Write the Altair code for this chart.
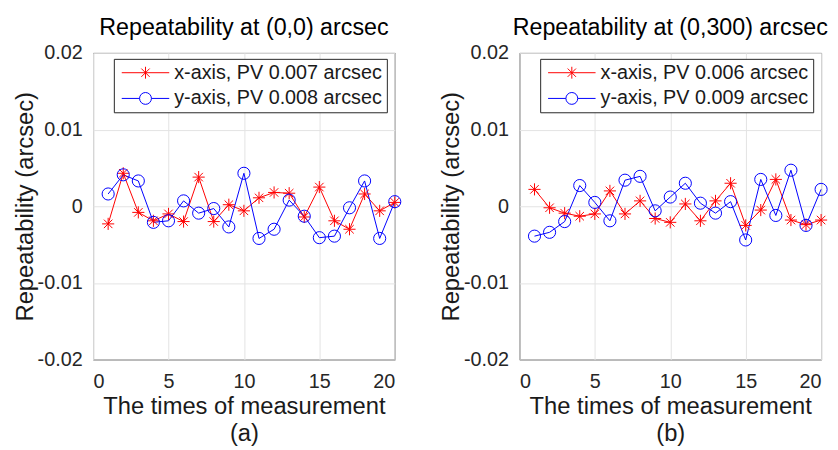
import altair as alt
import pandas as pd

times = list(range(1, 21))

# Panel (a): repeatability at (0,0), arcsec
a_x = [-0.0023, 0.0043, -0.0008, -0.0019, -0.0010, -0.0020, 0.0038, -0.0020, 0.0002, -0.0006,
       0.0011, 0.0018, 0.0017, -0.0014, 0.0025, -0.0019, -0.0030, 0.0016, -0.0006, 0.0005]
a_y = [0.0016, 0.0041, 0.0033, -0.0021, -0.0019, 0.0007, -0.0009, -0.0003, -0.0027, 0.0043,
       -0.0042, -0.0030, 0.0008, -0.0013, -0.0041, -0.0039, -0.0002, 0.0033, -0.0042, 0.0006]

# Panel (b): repeatability at (0,300), arcsec
b_x = [0.0022, -0.0002, -0.0009, -0.0013, -0.0010, 0.0020, -0.0010, 0.0007, -0.0016, -0.0021,
       0.0003, -0.0019, 0.0007, 0.0030, -0.0025, -0.0005, 0.0035, -0.0018, -0.0024, -0.0018]
b_y = [-0.0039, -0.0034, -0.0020, 0.0027, 0.0005, -0.0019, 0.0034, 0.0039, -0.0006, 0.0012,
       0.0030, 0.0004, -0.0009, 0.0006, -0.0044, 0.0035, -0.0012, 0.0047, -0.0025, 0.0022]

titles = ["Repeatability at (0,0) arcsec", "Repeatability at (0,300) arcsec"]
subtitles = ["(a)", "(b)"]
a_labels = ["x-axis, PV 0.007 arcsec", "y-axis, PV 0.008 arcsec"]
b_labels = ["x-axis, PV 0.006 arcsec", "y-axis, PV 0.009 arcsec"]
x_ticks = [0, 5, 10, 15, 20]
y_ticks = [-0.02, -0.01, 0, 0.01, 0.02]
x_title = "The times of measurement"
y_title = "Repeatability (arcsec)"

RED = "#ff0000"
BLUE = "#0000ff"
FONT = "Liberation Sans"
STAR = "M-1,0L1,0M0,-1L0,1M-0.7,-0.7L0.7,0.7M-0.7,0.7L0.7,-0.7"
LEG_STAR = "M-4,0L4,0M0,-1L0,1M-0.7,-0.7L0.7,0.7M-0.7,0.7L0.7,-0.7"
LEG_CIRC = "M-4,0L-1,0M1,0L4,0M1,0A1,1,0,1,1,-1,0A1,1,0,1,1,1,0"

Y_LABEL = "datum.value == 0 ? '0' : (datum.value < 0 ? '-' : '') + format(abs(datum.value), '.2f')"


def panel(xs, ys, labels, title, sub):
    df = pd.DataFrame({
        "t": times + times,
        "v": xs + ys,
        "s": [labels[0]] * len(xs) + [labels[1]] * len(ys),
    })
    base = alt.Chart(df)
    xenc = alt.X("t:Q", scale=alt.Scale(domain=[0, 20], nice=False),
                 axis=alt.Axis(values=x_ticks, title=[x_title, sub], format="d"))
    yenc = alt.Y("v:Q", scale=alt.Scale(domain=[-0.02, 0.02], nice=False),
                 axis=alt.Axis(values=y_ticks, title=y_title, labelExpr=Y_LABEL))
    color = alt.Color("s:N", scale=alt.Scale(domain=labels, range=[RED, BLUE]), legend=None)
    lines = base.mark_line(strokeWidth=1).encode(x=xenc, y=yenc, color=color)
    points = base.mark_point(filled=False, size=150, strokeWidth=1, opacity=1).encode(
        x=xenc, y=yenc, color=color,
        shape=alt.Shape("s:N", scale=alt.Scale(domain=labels, range=[STAR, "circle"]), legend=None),
    )
    leg = alt.Legend(
        title=None, orient="none", legendX=21, legendY=6,
        strokeColor="#262626", fillColor="white", padding=4,
        labelFont=FONT, labelFontSize=20, labelColor="#1a1a1a", labelLimit=0,
        symbolSize=144, symbolStrokeWidth=1, symbolOffset=18, labelOffset=19,
        rowPadding=6, symbolOpacity=1,
    )
    legend_layer = base.transform_filter("false").mark_point(filled=False, strokeWidth=1).encode(
        x=xenc, y=yenc,
        shape=alt.Shape("s:N", scale=alt.Scale(domain=labels, range=[LEG_STAR, LEG_CIRC]), legend=leg),
        color=alt.Color("s:N", scale=alt.Scale(domain=labels, range=[RED, BLUE]), legend=leg),
    )
    return alt.layer(lines, points, legend_layer).resolve_scale(
        shape="independent", color="independent"
    ).properties(
        width=305, height=310,
        title=alt.Title(title, fontSize=23.5, font=FONT, fontWeight="normal", color="#000000", offset=4),
    )


left = panel(a_x, a_y, a_labels, titles[0], subtitles[0])
right = panel(b_x, b_y, b_labels, titles[1], subtitles[1])

chart = alt.hconcat(left, right, spacing=35).properties(
    padding={"left": 4, "top": 5, "right": 0, "bottom": 0}
).configure_view(
    stroke="#262626", strokeWidth=1
).configure_axis(
    labelFont=FONT, labelFontSize=20, labelColor="#262626",
    titleFont=FONT, titleFontSize=24, titleFontWeight="normal", titleColor="#1a1a1a",
    gridColor="#e3e3e3", gridWidth=1, domain=False, ticks=False,
).configure_axisX(
    labelPadding=12, titlePadding=4, titleLineHeight=27,
).configure_axisY(
    labelPadding=11, titlePadding=0,
)

chart.save("out.html", embed_options={"renderer": "svg", "actions": False})
